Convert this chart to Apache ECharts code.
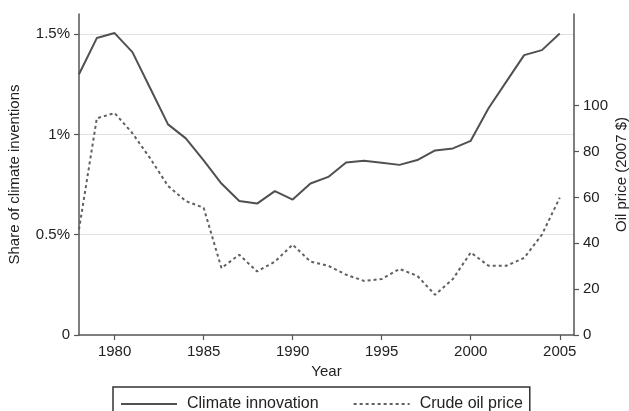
<!DOCTYPE html>
<html>
<head>
  <meta charset="UTF-8">
  <title>Climate innovation and oil price</title>
  <script src="https://cdn.jsdelivr.net/npm/echarts@6/dist/echarts.min.js"></script>
  <style>
    html, body { margin: 0; padding: 0; background: #fff; }
  </style>
</head>
<body>
  <div id="main" style="width: 629px; height: 411px;"></div>

  <script>
    const years = [
      1978, 1979, 1980, 1981, 1982, 1983, 1984, 1985, 1986, 1987,
      1988, 1989, 1990, 1991, 1992, 1993, 1994, 1995, 1996, 1997,
      1998, 1999, 2000, 2001, 2002, 2003, 2004, 2005
    ];

    // share of climate inventions, in %
    const climateShare = [
      1.30, 1.48, 1.505, 1.41, 1.23, 1.05, 0.98, 0.87, 0.755, 0.668,
      0.655, 0.717, 0.675, 0.755, 0.788, 0.86, 0.868, 0.858, 0.848, 0.872,
      0.92, 0.93, 0.968, 1.13, 1.263, 1.395, 1.42, 1.503
    ];

    // crude oil price, 2007 $
    const oilPrice = [
      46, 94.5, 96.8, 88, 77, 65, 58.4, 55.5, 29.2, 35,
      27.7, 32, 39.4, 32, 30.2, 26.3, 23.6, 24.4, 28.8, 25.8,
      17.5, 24.4, 36, 30.2, 30.2, 33.6, 43.8, 59.9
    ];

    const yearTicks = [1980, 1985, 1990, 1995, 2000, 2005];
    const shareTicks = [0, 0.5, 1, 1.5];
    const priceTicks = [0, 20, 40, 60, 80, 100];

    const font = 'Liberation Sans, Arial, Helvetica, sans-serif';
    const ink = '#222';
    const axisCol = '#555';

    const option = {
      animation: false,
      textStyle: { fontFamily: font },
      grid: { left: 79, right: 55, top: 14, bottom: 76, outerBoundsMode: 'none', containLabel: false },
      legend: {
        data: ['Climate innovation', 'Crude oil price'],
        left: 113,
        top: 387,
        padding: [9, 7, 9, 7],
        itemGap: 34,
        itemWidth: 56,
        itemHeight: 14,
        borderColor: '#333',
        borderWidth: 1.5,
        borderRadius: 0,
        itemStyle: { opacity: 0 },
        textStyle: { fontFamily: font, fontSize: 16, color: ink, padding: [0, 0, 0, 5] }
      },
      xAxis: {
        type: 'value',
        min: 1978,
        max: 2005.8,
        name: 'Year',
        nameLocation: 'middle',
        nameGap: 29,
        nameMoveOverlap: false,
        nameTextStyle: { fontSize: 15, color: ink },
        axisLine: { show: true, lineStyle: { color: axisCol, width: 1.5 } },
        axisTick: { show: true, length: 5, lineStyle: { color: axisCol, width: 1.2 }, customValues: yearTicks },
        axisLabel: { fontSize: 15, color: ink, margin: 9, customValues: yearTicks, formatter: v => String(v) },
        splitLine: { show: false }
      },
      yAxis: [
        {
          type: 'value',
          min: 0,
          max: 1.6,
          interval: 0.5,
          name: 'Share of climate inventions',
          nameLocation: 'middle',
          nameRotate: 90,
          nameGap: 57,
          nameMoveOverlap: false,
          nameTextStyle: { fontSize: 15, color: ink },
          axisLine: { show: true, lineStyle: { color: axisCol, width: 1.5 } },
          axisTick: { show: true, length: 5, lineStyle: { color: axisCol, width: 1.2 }, customValues: shareTicks },
          axisLabel: {
            fontSize: 15, color: ink, margin: 9, customValues: shareTicks,
            formatter: v => (v === 0 ? '0' : v + '%')
          },
          splitLine: { show: true, showMinLine: false, lineStyle: { color: '#e0e0e0', width: 1 } }
        },
        {
          type: 'value',
          min: 0,
          max: 140,
          interval: 20,
          position: 'right',
          name: 'Oil price (2007 $)',
          nameLocation: 'middle',
          nameRotate: 90,
          nameGap: 40,
          nameMoveOverlap: false,
          nameTextStyle: { fontSize: 15, color: ink },
          axisLine: { show: true, lineStyle: { color: axisCol, width: 1.5 } },
          axisTick: { show: true, length: 5, lineStyle: { color: axisCol, width: 1.2 }, customValues: priceTicks },
          axisLabel: { fontSize: 15, color: ink, margin: 9, customValues: priceTicks },
          splitLine: { show: false }
        }
      ],
      series: [
        {
          name: 'Climate innovation',
          type: 'line',
          yAxisIndex: 0,
          symbol: 'none',
          data: years.map((y, i) => [y, climateShare[i]]),
          lineStyle: { color: '#505050', width: 2 },
          itemStyle: { color: '#505050' }
        },
        {
          name: 'Crude oil price',
          type: 'line',
          yAxisIndex: 1,
          symbol: 'none',
          data: years.map((y, i) => [y, oilPrice[i]]),
          lineStyle: { color: '#606060', width: 2, type: [3, 3] },
          itemStyle: { color: '#606060' }
        }
      ]
    };

    const chart = echarts.init(document.getElementById('main'), null, { renderer: 'canvas' });
    chart.setOption(option);
  </script>
</body>
</html>
